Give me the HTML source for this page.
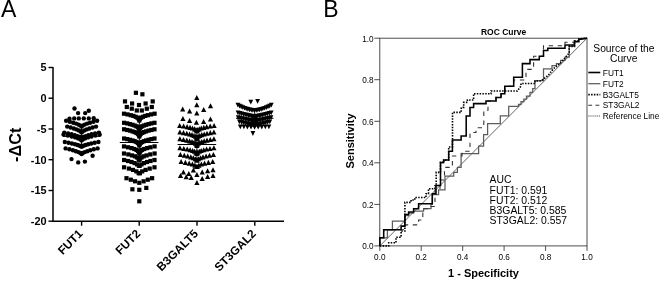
<!DOCTYPE html>
<html><head><meta charset="utf-8"><title>Figure</title>
<style>
html,body{margin:0;padding:0;background:#fff;}
body{width:660px;height:281px;overflow:hidden;font-family:"Liberation Sans",sans-serif;}
svg{display:block;will-change:transform;filter:grayscale(1);}
text{font-family:"Liberation Sans",sans-serif;fill:#000;}
.b{font-weight:bold;}
</style></head><body>
<svg width="660" height="281" viewBox="0 0 660 281">
<rect width="660" height="281" fill="#fff"/>
<path d="M53.0 66.9 V221.2 H284" fill="none" stroke="#000" stroke-width="1.5"/>
<line x1="48.5" y1="67.5" x2="53.0" y2="67.5" stroke="#000" stroke-width="1.4"/>
<text x="46.5" y="71.3" text-anchor="end" class="b" font-size="10.9">5</text>
<line x1="48.5" y1="98.2" x2="53.0" y2="98.2" stroke="#000" stroke-width="1.4"/>
<text x="46.5" y="102.0" text-anchor="end" class="b" font-size="10.9">0</text>
<line x1="48.5" y1="129.0" x2="53.0" y2="129.0" stroke="#000" stroke-width="1.4"/>
<text x="46.5" y="132.8" text-anchor="end" class="b" font-size="10.9">-5</text>
<line x1="48.5" y1="159.7" x2="53.0" y2="159.7" stroke="#000" stroke-width="1.4"/>
<text x="46.5" y="163.5" text-anchor="end" class="b" font-size="10.9">-10</text>
<line x1="48.5" y1="190.5" x2="53.0" y2="190.5" stroke="#000" stroke-width="1.4"/>
<text x="46.5" y="194.3" text-anchor="end" class="b" font-size="10.9">-15</text>
<line x1="48.5" y1="221.2" x2="53.0" y2="221.2" stroke="#000" stroke-width="1.4"/>
<text x="46.5" y="225.0" text-anchor="end" class="b" font-size="10.9">-20</text>
<line x1="81.6" y1="221.2" x2="81.6" y2="225.7" stroke="#000" stroke-width="1.4"/>
<line x1="139.2" y1="221.2" x2="139.2" y2="225.7" stroke="#000" stroke-width="1.4"/>
<line x1="197.0" y1="221.2" x2="197.0" y2="225.7" stroke="#000" stroke-width="1.4"/>
<line x1="254.8" y1="221.2" x2="254.8" y2="225.7" stroke="#000" stroke-width="1.4"/>
<text transform="translate(83.5,234.4) rotate(-45)" text-anchor="end" class="b" font-size="11.8">FUT1</text>
<text transform="translate(141.1,234.4) rotate(-45)" text-anchor="end" class="b" font-size="11.8">FUT2</text>
<text transform="translate(198.9,234.4) rotate(-45)" text-anchor="end" class="b" font-size="11.8">B3GALT5</text>
<text transform="translate(256.7,234.4) rotate(-45)" text-anchor="end" class="b" font-size="11.8">ST3GAL2</text>
<text transform="translate(20.9,144.8) rotate(-90)" text-anchor="middle" class="b" font-size="16.3">-ΔCt</text>
<text x="0.9" y="17.4" font-size="23">A</text>
<text x="323.2" y="17.4" font-size="23">B</text>
<g fill="#000"><circle cx="74.5" cy="108.5" r="2.2"/><circle cx="78.1" cy="113.1" r="2.2"/><circle cx="85.2" cy="113.1" r="2.2"/><circle cx="88.8" cy="110.7" r="2.2"/><circle cx="69.5" cy="118.7" r="2.2"/><circle cx="74.2" cy="118.4" r="2.2"/><circle cx="78.8" cy="118.4" r="2.2"/><circle cx="83.8" cy="118.4" r="2.2"/><circle cx="88.8" cy="118.4" r="2.2"/><circle cx="93.7" cy="118.2" r="2.2"/><circle cx="71.5" cy="159.1" r="2.2"/><circle cx="78.2" cy="162.4" r="2.2"/><circle cx="84.9" cy="161.6" r="2.2"/><circle cx="92.6" cy="155.8" r="2.2"/><circle cx="66.1" cy="120.8" r="2.2"/><circle cx="69.8" cy="121.7" r="2.2"/><circle cx="73.2" cy="122.7" r="2.2"/><circle cx="76.1" cy="123.6" r="2.2"/><circle cx="78.6" cy="124.6" r="2.2"/><circle cx="80.5" cy="125.6" r="2.2"/><circle cx="81.6" cy="126.6" r="2.2"/><circle cx="82.7" cy="125.6" r="2.2"/><circle cx="84.6" cy="124.6" r="2.2"/><circle cx="87.1" cy="123.6" r="2.2"/><circle cx="90.0" cy="122.7" r="2.2"/><circle cx="93.4" cy="121.7" r="2.2"/><circle cx="97.1" cy="120.8" r="2.2"/><circle cx="67.2" cy="126.6" r="2.2"/><circle cx="70.6" cy="127.5" r="2.2"/><circle cx="73.8" cy="128.5" r="2.2"/><circle cx="76.5" cy="129.4" r="2.2"/><circle cx="78.8" cy="130.4" r="2.2"/><circle cx="80.6" cy="131.4" r="2.2"/><circle cx="81.6" cy="132.4" r="2.2"/><circle cx="82.6" cy="131.4" r="2.2"/><circle cx="84.4" cy="130.4" r="2.2"/><circle cx="86.7" cy="129.4" r="2.2"/><circle cx="89.4" cy="128.5" r="2.2"/><circle cx="92.6" cy="127.5" r="2.2"/><circle cx="96.0" cy="126.6" r="2.2"/><circle cx="64.3" cy="132.6" r="2.2"/><circle cx="68.1" cy="133.5" r="2.2"/><circle cx="71.6" cy="134.3" r="2.2"/><circle cx="74.8" cy="135.2" r="2.2"/><circle cx="77.5" cy="136.1" r="2.2"/><circle cx="79.7" cy="137.0" r="2.2"/><circle cx="81.2" cy="137.9" r="2.2"/><circle cx="82.0" cy="137.9" r="2.2"/><circle cx="83.5" cy="137.0" r="2.2"/><circle cx="85.7" cy="136.1" r="2.2"/><circle cx="88.4" cy="135.2" r="2.2"/><circle cx="91.6" cy="134.3" r="2.2"/><circle cx="95.1" cy="133.5" r="2.2"/><circle cx="98.9" cy="132.6" r="2.2"/><circle cx="63.5" cy="134.6" r="2.2"/><circle cx="67.8" cy="135.5" r="2.2"/><circle cx="71.7" cy="136.5" r="2.2"/><circle cx="75.2" cy="137.4" r="2.2"/><circle cx="78.1" cy="138.4" r="2.2"/><circle cx="80.4" cy="139.4" r="2.2"/><circle cx="81.6" cy="140.4" r="2.2"/><circle cx="82.8" cy="139.4" r="2.2"/><circle cx="85.1" cy="138.4" r="2.2"/><circle cx="88.0" cy="137.4" r="2.2"/><circle cx="91.5" cy="136.5" r="2.2"/><circle cx="95.4" cy="135.5" r="2.2"/><circle cx="99.7" cy="134.6" r="2.2"/><circle cx="64.8" cy="142.0" r="2.2"/><circle cx="68.5" cy="142.7" r="2.2"/><circle cx="71.9" cy="143.5" r="2.2"/><circle cx="75.0" cy="144.2" r="2.2"/><circle cx="77.6" cy="145.0" r="2.2"/><circle cx="79.7" cy="145.7" r="2.2"/><circle cx="81.2" cy="146.5" r="2.2"/><circle cx="82.0" cy="146.5" r="2.2"/><circle cx="83.5" cy="145.7" r="2.2"/><circle cx="85.6" cy="145.0" r="2.2"/><circle cx="88.2" cy="144.2" r="2.2"/><circle cx="91.3" cy="143.5" r="2.2"/><circle cx="94.7" cy="142.7" r="2.2"/><circle cx="98.4" cy="142.0" r="2.2"/><circle cx="65.6" cy="148.4" r="2.2"/><circle cx="69.4" cy="149.3" r="2.2"/><circle cx="72.9" cy="150.2" r="2.2"/><circle cx="75.9" cy="151.2" r="2.2"/><circle cx="78.5" cy="152.1" r="2.2"/><circle cx="80.5" cy="153.0" r="2.2"/><circle cx="81.6" cy="154.0" r="2.2"/><circle cx="82.7" cy="153.0" r="2.2"/><circle cx="84.7" cy="152.1" r="2.2"/><circle cx="87.3" cy="151.2" r="2.2"/><circle cx="90.3" cy="150.2" r="2.2"/><circle cx="93.8" cy="149.3" r="2.2"/><circle cx="97.6" cy="148.4" r="2.2"/></g>
<g fill="#000"><rect x="133.8" y="90.7" width="4.2" height="4.2"/><rect x="140.3" y="92.2" width="4.2" height="4.2"/><rect x="122.9" y="99.3" width="4.2" height="4.2"/><rect x="130.0" y="101.4" width="4.2" height="4.2"/><rect x="136.9" y="102.9" width="4.2" height="4.2"/><rect x="143.5" y="101.4" width="4.2" height="4.2"/><rect x="150.6" y="99.3" width="4.2" height="4.2"/><rect x="124.7" y="104.9" width="4.2" height="4.2"/><rect x="129.7" y="106.6" width="4.2" height="4.2"/><rect x="134.7" y="108.4" width="4.2" height="4.2"/><rect x="139.7" y="108.4" width="4.2" height="4.2"/><rect x="144.7" y="106.6" width="4.2" height="4.2"/><rect x="149.7" y="104.9" width="4.2" height="4.2"/><rect x="130.3" y="187.2" width="4.2" height="4.2"/><rect x="137.2" y="187.7" width="4.2" height="4.2"/><rect x="144.2" y="185.8" width="4.2" height="4.2"/><rect x="137.2" y="199.2" width="4.2" height="4.2"/><rect x="121.9" y="111.6" width="4.2" height="4.2"/><rect x="125.4" y="112.3" width="4.2" height="4.2"/><rect x="128.6" y="113.1" width="4.2" height="4.2"/><rect x="131.3" y="113.8" width="4.2" height="4.2"/><rect x="133.6" y="114.7" width="4.2" height="4.2"/><rect x="135.4" y="115.6" width="4.2" height="4.2"/><rect x="136.6" y="116.7" width="4.2" height="4.2"/><rect x="137.2" y="118.4" width="4.2" height="4.2"/><rect x="137.8" y="116.7" width="4.2" height="4.2"/><rect x="139.0" y="115.6" width="4.2" height="4.2"/><rect x="140.8" y="114.7" width="4.2" height="4.2"/><rect x="143.1" y="113.8" width="4.2" height="4.2"/><rect x="145.8" y="113.1" width="4.2" height="4.2"/><rect x="149.0" y="112.3" width="4.2" height="4.2"/><rect x="152.5" y="111.6" width="4.2" height="4.2"/><rect x="122.0" y="120.7" width="4.2" height="4.2"/><rect x="125.1" y="121.3" width="4.2" height="4.2"/><rect x="127.9" y="122.0" width="4.2" height="4.2"/><rect x="130.4" y="122.7" width="4.2" height="4.2"/><rect x="132.5" y="123.4" width="4.2" height="4.2"/><rect x="134.3" y="124.2" width="4.2" height="4.2"/><rect x="135.8" y="125.1" width="4.2" height="4.2"/><rect x="136.8" y="126.1" width="4.2" height="4.2"/><rect x="137.2" y="127.7" width="4.2" height="4.2"/><rect x="137.6" y="126.1" width="4.2" height="4.2"/><rect x="138.6" y="125.1" width="4.2" height="4.2"/><rect x="140.1" y="124.2" width="4.2" height="4.2"/><rect x="141.9" y="123.4" width="4.2" height="4.2"/><rect x="144.0" y="122.7" width="4.2" height="4.2"/><rect x="146.5" y="122.0" width="4.2" height="4.2"/><rect x="149.3" y="121.3" width="4.2" height="4.2"/><rect x="152.4" y="120.7" width="4.2" height="4.2"/><rect x="122.0" y="127.2" width="4.2" height="4.2"/><rect x="125.1" y="127.9" width="4.2" height="4.2"/><rect x="127.9" y="128.5" width="4.2" height="4.2"/><rect x="130.4" y="129.3" width="4.2" height="4.2"/><rect x="132.5" y="130.0" width="4.2" height="4.2"/><rect x="134.3" y="130.8" width="4.2" height="4.2"/><rect x="135.8" y="131.7" width="4.2" height="4.2"/><rect x="136.8" y="132.8" width="4.2" height="4.2"/><rect x="137.2" y="134.4" width="4.2" height="4.2"/><rect x="137.6" y="132.8" width="4.2" height="4.2"/><rect x="138.6" y="131.7" width="4.2" height="4.2"/><rect x="140.1" y="130.8" width="4.2" height="4.2"/><rect x="141.9" y="130.0" width="4.2" height="4.2"/><rect x="144.0" y="129.3" width="4.2" height="4.2"/><rect x="146.5" y="128.5" width="4.2" height="4.2"/><rect x="149.3" y="127.9" width="4.2" height="4.2"/><rect x="152.4" y="127.2" width="4.2" height="4.2"/><rect x="122.0" y="136.4" width="4.2" height="4.2"/><rect x="125.1" y="137.0" width="4.2" height="4.2"/><rect x="127.9" y="137.7" width="4.2" height="4.2"/><rect x="130.4" y="138.4" width="4.2" height="4.2"/><rect x="132.5" y="139.1" width="4.2" height="4.2"/><rect x="134.3" y="139.9" width="4.2" height="4.2"/><rect x="135.8" y="140.8" width="4.2" height="4.2"/><rect x="136.8" y="141.8" width="4.2" height="4.2"/><rect x="137.2" y="143.4" width="4.2" height="4.2"/><rect x="137.6" y="141.8" width="4.2" height="4.2"/><rect x="138.6" y="140.8" width="4.2" height="4.2"/><rect x="140.1" y="139.9" width="4.2" height="4.2"/><rect x="141.9" y="139.1" width="4.2" height="4.2"/><rect x="144.0" y="138.4" width="4.2" height="4.2"/><rect x="146.5" y="137.7" width="4.2" height="4.2"/><rect x="149.3" y="137.0" width="4.2" height="4.2"/><rect x="152.4" y="136.4" width="4.2" height="4.2"/><rect x="121.9" y="144.3" width="4.2" height="4.2"/><rect x="126.0" y="145.2" width="4.2" height="4.2"/><rect x="129.4" y="146.0" width="4.2" height="4.2"/><rect x="132.2" y="146.9" width="4.2" height="4.2"/><rect x="134.4" y="147.9" width="4.2" height="4.2"/><rect x="136.0" y="148.9" width="4.2" height="4.2"/><rect x="136.9" y="149.9" width="4.2" height="4.2"/><rect x="137.2" y="151.3" width="4.2" height="4.2"/><rect x="137.5" y="149.9" width="4.2" height="4.2"/><rect x="138.4" y="148.9" width="4.2" height="4.2"/><rect x="140.0" y="147.9" width="4.2" height="4.2"/><rect x="142.2" y="146.9" width="4.2" height="4.2"/><rect x="145.0" y="146.0" width="4.2" height="4.2"/><rect x="148.4" y="145.2" width="4.2" height="4.2"/><rect x="152.5" y="144.3" width="4.2" height="4.2"/><rect x="121.9" y="151.4" width="4.2" height="4.2"/><rect x="126.2" y="152.3" width="4.2" height="4.2"/><rect x="129.9" y="153.3" width="4.2" height="4.2"/><rect x="132.8" y="154.2" width="4.2" height="4.2"/><rect x="134.9" y="155.3" width="4.2" height="4.2"/><rect x="136.4" y="156.4" width="4.2" height="4.2"/><rect x="137.1" y="157.6" width="4.2" height="4.2"/><rect x="137.3" y="157.6" width="4.2" height="4.2"/><rect x="138.0" y="156.4" width="4.2" height="4.2"/><rect x="139.5" y="155.3" width="4.2" height="4.2"/><rect x="141.6" y="154.2" width="4.2" height="4.2"/><rect x="144.5" y="153.3" width="4.2" height="4.2"/><rect x="148.2" y="152.3" width="4.2" height="4.2"/><rect x="152.5" y="151.4" width="4.2" height="4.2"/><rect x="122.0" y="157.9" width="4.2" height="4.2"/><rect x="126.0" y="158.9" width="4.2" height="4.2"/><rect x="129.5" y="159.9" width="4.2" height="4.2"/><rect x="132.5" y="161.0" width="4.2" height="4.2"/><rect x="135.0" y="162.3" width="4.2" height="4.2"/><rect x="136.8" y="163.7" width="4.2" height="4.2"/><rect x="137.6" y="163.7" width="4.2" height="4.2"/><rect x="139.4" y="162.3" width="4.2" height="4.2"/><rect x="141.9" y="161.0" width="4.2" height="4.2"/><rect x="144.9" y="159.9" width="4.2" height="4.2"/><rect x="148.4" y="158.9" width="4.2" height="4.2"/><rect x="152.4" y="157.9" width="4.2" height="4.2"/><rect x="122.0" y="165.2" width="4.2" height="4.2"/><rect x="126.8" y="166.5" width="4.2" height="4.2"/><rect x="130.9" y="167.8" width="4.2" height="4.2"/><rect x="134.3" y="169.3" width="4.2" height="4.2"/><rect x="136.6" y="171.1" width="4.2" height="4.2"/><rect x="137.8" y="171.1" width="4.2" height="4.2"/><rect x="140.1" y="169.3" width="4.2" height="4.2"/><rect x="143.5" y="167.8" width="4.2" height="4.2"/><rect x="147.6" y="166.5" width="4.2" height="4.2"/><rect x="152.4" y="165.2" width="4.2" height="4.2"/><rect x="124.4" y="176.1" width="4.2" height="4.2"/><rect x="128.7" y="177.6" width="4.2" height="4.2"/><rect x="132.9" y="179.2" width="4.2" height="4.2"/><rect x="137.2" y="180.7" width="4.2" height="4.2"/><rect x="141.5" y="179.2" width="4.2" height="4.2"/><rect x="145.7" y="177.6" width="4.2" height="4.2"/><rect x="150.0" y="176.1" width="4.2" height="4.2"/></g>
<line x1="119.8" y1="142.5" x2="158.4" y2="142.5" stroke="#000" stroke-width="1"/>
<g fill="#000"><path d="M194.2 99.9L199.4 99.9L196.8 94.9z"/><path d="M194.2 107.2L199.4 107.2L196.8 102.2z"/><path d="M207.9 108.2L213.1 108.2L210.5 103.2z"/><path d="M180.1 111.5L185.3 111.5L182.7 106.5z"/><path d="M187.0 113.6L192.2 113.6L189.6 108.6z"/><path d="M194.2 115.6L199.4 115.6L196.8 110.6z"/><path d="M201.1 112.1L206.3 112.1L203.7 107.1z"/><path d="M180.3 121.0L185.5 121.0L182.9 116.0z"/><path d="M187.0 123.1L192.2 123.1L189.6 118.1z"/><path d="M193.8 124.7L199.0 124.7L196.4 119.7z"/><path d="M201.0 123.9L206.2 123.9L203.6 118.9z"/><path d="M207.9 121.5L213.1 121.5L210.5 116.5z"/><path d="M194.3 185.0L199.5 185.0L196.9 180.0z"/><path d="M177.9 177.9L183.1 177.9L180.5 172.9z"/><path d="M180.8 174.6L186.0 174.6L183.4 169.6z"/><path d="M183.6 179.3L188.8 179.3L186.2 174.3z"/><path d="M186.2 176.0L191.4 176.0L188.8 171.0z"/><path d="M188.6 179.9L193.8 179.9L191.2 174.9z"/><path d="M190.8 172.5L196.0 172.5L193.4 167.5z"/><path d="M194.3 177.0L199.5 177.0L196.9 172.0z"/><path d="M199.6 174.6L204.8 174.6L202.2 169.6z"/><path d="M199.6 181.0L204.8 181.0L202.2 176.0z"/><path d="M205.0 173.2L210.2 173.2L207.6 168.2z"/><path d="M205.0 178.9L210.2 178.9L207.6 173.9z"/><path d="M210.4 172.2L215.6 172.2L213.0 167.2z"/><path d="M210.4 178.1L215.6 178.1L213.0 173.1z"/><path d="M177.1 127.9L182.3 127.9L179.7 122.9z"/><path d="M181.0 128.6L186.2 128.6L183.6 123.5z"/><path d="M184.5 129.2L189.7 129.2L187.1 124.1z"/><path d="M187.4 129.9L192.6 129.9L190.0 124.8z"/><path d="M189.9 130.6L195.1 130.6L192.5 125.5z"/><path d="M191.9 131.4L197.1 131.4L194.5 126.3z"/><path d="M193.4 132.2L198.6 132.2L196.0 127.1z"/><path d="M194.2 133.3L199.4 133.3L196.8 128.2z"/><path d="M194.4 133.3L199.6 133.3L197.0 128.2z"/><path d="M195.2 132.2L200.4 132.2L197.8 127.1z"/><path d="M196.7 131.4L201.9 131.4L199.3 126.3z"/><path d="M198.7 130.6L203.9 130.6L201.3 125.5z"/><path d="M201.2 129.9L206.4 129.9L203.8 124.8z"/><path d="M204.1 129.2L209.3 129.2L206.7 124.1z"/><path d="M207.6 128.6L212.8 128.6L210.2 123.5z"/><path d="M211.5 127.9L216.7 127.9L214.1 122.9z"/><path d="M177.3 134.5L182.5 134.5L179.9 129.5z"/><path d="M180.9 135.2L186.1 135.2L183.5 130.1z"/><path d="M184.2 135.8L189.4 135.8L186.8 130.7z"/><path d="M187.0 136.5L192.2 136.5L189.6 131.4z"/><path d="M189.4 137.2L194.6 137.2L192.0 132.1z"/><path d="M191.4 138.0L196.6 138.0L194.0 132.9z"/><path d="M192.9 138.8L198.1 138.8L195.5 133.7z"/><path d="M193.9 139.7L199.1 139.7L196.5 134.6z"/><path d="M194.3 141.0L199.5 141.0L196.9 136.0z"/><path d="M194.7 139.7L199.9 139.7L197.3 134.6z"/><path d="M195.7 138.8L200.9 138.8L198.3 133.7z"/><path d="M197.2 138.0L202.4 138.0L199.8 132.9z"/><path d="M199.2 137.2L204.4 137.2L201.8 132.1z"/><path d="M201.6 136.5L206.8 136.5L204.2 131.4z"/><path d="M204.4 135.8L209.6 135.8L207.0 130.7z"/><path d="M207.7 135.2L212.9 135.2L210.3 130.1z"/><path d="M211.3 134.5L216.5 134.5L213.9 129.5z"/><path d="M177.3 141.3L182.5 141.3L179.9 136.3z"/><path d="M180.9 142.0L186.1 142.0L183.5 136.9z"/><path d="M184.2 142.7L189.4 142.7L186.8 137.6z"/><path d="M187.0 143.4L192.2 143.4L189.6 138.3z"/><path d="M189.4 144.1L194.6 144.1L192.0 139.0z"/><path d="M191.4 144.9L196.6 144.9L194.0 139.8z"/><path d="M192.9 145.7L198.1 145.7L195.5 140.6z"/><path d="M193.9 146.7L199.1 146.7L196.5 141.6z"/><path d="M194.3 148.0L199.5 148.0L196.9 143.0z"/><path d="M194.7 146.7L199.9 146.7L197.3 141.6z"/><path d="M195.7 145.7L200.9 145.7L198.3 140.6z"/><path d="M197.2 144.9L202.4 144.9L199.8 139.8z"/><path d="M199.2 144.1L204.4 144.1L201.8 139.0z"/><path d="M201.6 143.4L206.8 143.4L204.2 138.3z"/><path d="M204.4 142.7L209.6 142.7L207.0 137.6z"/><path d="M207.7 142.0L212.9 142.0L210.3 136.9z"/><path d="M211.3 141.3L216.5 141.3L213.9 136.3z"/><path d="M177.3 150.3L182.5 150.3L179.9 145.3z"/><path d="M181.2 151.0L186.4 151.0L183.8 145.9z"/><path d="M184.6 151.6L189.8 151.6L187.2 146.5z"/><path d="M187.5 152.3L192.7 152.3L190.1 147.2z"/><path d="M190.0 153.1L195.2 153.1L192.6 148.0z"/><path d="M191.9 153.8L197.1 153.8L194.5 148.7z"/><path d="M193.4 154.7L198.6 154.7L196.0 149.6z"/><path d="M194.2 155.7L199.4 155.7L196.8 150.7z"/><path d="M194.4 155.7L199.6 155.7L197.0 150.7z"/><path d="M195.2 154.7L200.4 154.7L197.8 149.6z"/><path d="M196.7 153.8L201.9 153.8L199.3 148.7z"/><path d="M198.6 153.1L203.8 153.1L201.2 148.0z"/><path d="M201.1 152.3L206.3 152.3L203.7 147.2z"/><path d="M204.0 151.6L209.2 151.6L206.6 146.5z"/><path d="M207.4 151.0L212.6 151.0L210.0 145.9z"/><path d="M211.3 150.3L216.5 150.3L213.9 145.3z"/><path d="M177.8 157.0L183.0 157.0L180.4 152.0z"/><path d="M181.7 157.8L186.9 157.8L184.3 152.7z"/><path d="M185.1 158.6L190.3 158.6L187.7 153.5z"/><path d="M188.2 159.4L193.4 159.4L190.8 154.3z"/><path d="M190.7 160.3L195.9 160.3L193.3 155.2z"/><path d="M192.7 161.3L197.9 161.3L195.3 156.2z"/><path d="M194.0 162.5L199.2 162.5L196.6 157.4z"/><path d="M194.6 162.5L199.8 162.5L197.2 157.4z"/><path d="M195.9 161.3L201.1 161.3L198.5 156.2z"/><path d="M197.9 160.3L203.1 160.3L200.5 155.2z"/><path d="M200.4 159.4L205.6 159.4L203.0 154.3z"/><path d="M203.5 158.6L208.7 158.6L206.1 153.5z"/><path d="M206.9 157.8L212.1 157.8L209.5 152.7z"/><path d="M210.8 157.0L216.0 157.0L213.4 152.0z"/><path d="M178.5 164.0L183.7 164.0L181.1 159.0z"/><path d="M182.8 164.9L188.0 164.9L185.4 159.8z"/><path d="M186.6 165.7L191.8 165.7L189.2 160.6z"/><path d="M189.8 166.6L195.0 166.6L192.4 161.6z"/><path d="M192.3 167.7L197.5 167.7L194.9 162.6z"/><path d="M194.0 169.0L199.2 169.0L196.6 163.9z"/><path d="M194.6 169.0L199.8 169.0L197.2 163.9z"/><path d="M196.3 167.7L201.5 167.7L198.9 162.6z"/><path d="M198.8 166.6L204.0 166.6L201.4 161.6z"/><path d="M202.0 165.7L207.2 165.7L204.6 160.6z"/><path d="M205.8 164.9L211.0 164.9L208.4 159.8z"/><path d="M210.1 164.0L215.3 164.0L212.7 159.0z"/></g>
<line x1="177.6" y1="144.5" x2="216.2" y2="144.5" stroke="#000" stroke-width="1"/>
<g fill="#000"><path d="M248.4 99.8L253.2 99.8L250.8 104.6z"/><path d="M255.2 99.0L260.0 99.0L257.6 103.8z"/><path d="M250.5 131.1L255.3 131.1L252.9 135.9z"/><path d="M235.5 102.8L240.3 102.8L237.9 107.6z"/><path d="M237.2 103.7L242.0 103.7L239.6 108.4z"/><path d="M238.8 104.5L243.6 104.5L241.2 109.2z"/><path d="M240.5 105.2L245.3 105.2L242.9 109.9z"/><path d="M242.2 105.9L247.0 105.9L244.6 110.6z"/><path d="M243.8 106.5L248.7 106.5L246.2 111.2z"/><path d="M245.5 107.0L250.3 107.0L247.9 111.7z"/><path d="M247.2 107.5L252.0 107.5L249.6 112.2z"/><path d="M248.9 107.8L253.7 107.8L251.3 112.5z"/><path d="M250.5 108.1L255.3 108.1L252.9 112.8z"/><path d="M252.2 108.2L257.0 108.2L254.6 113.0z"/><path d="M253.9 108.1L258.7 108.1L256.3 112.8z"/><path d="M255.5 107.8L260.3 107.8L257.9 112.5z"/><path d="M257.2 107.5L262.0 107.5L259.6 112.2z"/><path d="M258.9 107.0L263.7 107.0L261.3 111.7z"/><path d="M260.6 106.5L265.3 106.5L262.9 111.2z"/><path d="M262.2 105.9L267.0 105.9L264.6 110.6z"/><path d="M263.9 105.2L268.7 105.2L266.3 109.9z"/><path d="M265.6 104.5L270.4 104.5L268.0 109.2z"/><path d="M267.2 103.7L272.0 103.7L269.6 108.4z"/><path d="M268.9 102.8L273.7 102.8L271.3 107.6z"/><path d="M235.6 110.4L240.4 110.4L238.0 115.2z"/><path d="M237.5 111.0L242.3 111.0L239.9 115.7z"/><path d="M239.3 111.5L244.1 111.5L241.7 116.2z"/><path d="M241.1 112.0L245.9 112.0L243.5 116.7z"/><path d="M242.8 112.4L247.6 112.4L245.2 117.1z"/><path d="M244.4 112.8L249.2 112.8L246.8 117.5z"/><path d="M246.0 113.2L250.8 113.2L248.4 117.9z"/><path d="M247.5 113.5L252.3 113.5L249.9 118.2z"/><path d="M248.9 113.8L253.7 113.8L251.3 118.5z"/><path d="M250.2 114.0L255.0 114.0L252.6 118.7z"/><path d="M251.4 114.2L256.2 114.2L253.8 118.9z"/><path d="M252.2 114.2L257.0 114.2L254.6 119.0z"/><path d="M253.0 114.2L257.8 114.2L255.4 118.9z"/><path d="M254.2 114.0L259.0 114.0L256.6 118.7z"/><path d="M255.5 113.8L260.3 113.8L257.9 118.5z"/><path d="M256.9 113.5L261.7 113.5L259.3 118.2z"/><path d="M258.4 113.2L263.2 113.2L260.8 117.9z"/><path d="M260.0 112.8L264.8 112.8L262.4 117.5z"/><path d="M261.6 112.4L266.4 112.4L264.0 117.1z"/><path d="M263.3 112.0L268.1 112.0L265.7 116.7z"/><path d="M265.1 111.5L269.9 111.5L267.5 116.2z"/><path d="M266.9 111.0L271.7 111.0L269.3 115.7z"/><path d="M268.8 110.4L273.6 110.4L271.2 115.2z"/><path d="M235.8 115.2L240.6 115.2L238.2 120.0z"/><path d="M237.6 115.7L242.4 115.7L240.0 120.4z"/><path d="M239.4 116.2L244.2 116.2L241.8 120.9z"/><path d="M241.2 116.6L246.0 116.6L243.6 121.3z"/><path d="M242.9 117.0L247.7 117.0L245.3 121.7z"/><path d="M244.5 117.4L249.3 117.4L246.9 122.1z"/><path d="M246.1 117.7L250.9 117.7L248.5 122.4z"/><path d="M247.6 118.0L252.4 118.0L250.0 122.7z"/><path d="M249.0 118.2L253.8 118.2L251.4 122.9z"/><path d="M250.3 118.4L255.1 118.4L252.7 123.1z"/><path d="M251.4 118.6L256.2 118.6L253.8 123.3z"/><path d="M252.2 118.6L257.0 118.6L254.6 123.4z"/><path d="M253.0 118.6L257.8 118.6L255.4 123.3z"/><path d="M254.1 118.4L258.9 118.4L256.5 123.1z"/><path d="M255.4 118.2L260.2 118.2L257.8 122.9z"/><path d="M256.8 118.0L261.6 118.0L259.2 122.7z"/><path d="M258.3 117.7L263.1 117.7L260.7 122.4z"/><path d="M259.9 117.4L264.7 117.4L262.3 122.1z"/><path d="M261.5 117.0L266.3 117.0L263.9 121.7z"/><path d="M263.2 116.6L268.0 116.6L265.6 121.3z"/><path d="M265.0 116.2L269.8 116.2L267.4 120.9z"/><path d="M266.8 115.7L271.6 115.7L269.2 120.4z"/><path d="M268.6 115.2L273.4 115.2L271.0 120.0z"/><path d="M237.0 119.4L241.8 119.4L239.4 124.2z"/><path d="M239.1 120.0L243.9 120.0L241.5 124.7z"/><path d="M241.1 120.5L245.9 120.5L243.5 125.2z"/><path d="M243.0 121.0L247.8 121.0L245.4 125.7z"/><path d="M244.9 121.4L249.7 121.4L247.3 126.1z"/><path d="M246.7 121.8L251.5 121.8L249.1 126.5z"/><path d="M248.4 122.1L253.2 122.1L250.8 126.8z"/><path d="M249.9 122.4L254.7 122.4L252.3 127.1z"/><path d="M251.2 122.6L256.0 122.6L253.6 127.3z"/><path d="M252.2 122.6L257.0 122.6L254.6 127.4z"/><path d="M253.2 122.6L258.0 122.6L255.6 127.3z"/><path d="M254.5 122.4L259.3 122.4L256.9 127.1z"/><path d="M256.0 122.1L260.8 122.1L258.4 126.8z"/><path d="M257.7 121.8L262.5 121.8L260.1 126.5z"/><path d="M259.5 121.4L264.3 121.4L261.9 126.1z"/><path d="M261.4 121.0L266.2 121.0L263.8 125.7z"/><path d="M263.3 120.5L268.1 120.5L265.7 125.2z"/><path d="M265.3 120.0L270.1 120.0L267.7 124.7z"/><path d="M267.4 119.4L272.2 119.4L269.8 124.2z"/><path d="M237.9 124.4L242.7 124.4L240.3 129.2z"/><path d="M241.5 124.6L246.3 124.6L243.9 129.3z"/><path d="M245.0 124.7L249.8 124.7L247.4 129.5z"/><path d="M248.6 124.9L253.4 124.9L251.0 129.6z"/><path d="M252.2 125.0L257.0 125.0L254.6 129.8z"/><path d="M255.8 124.9L260.6 124.9L258.2 129.6z"/><path d="M259.4 124.7L264.1 124.7L261.8 129.5z"/><path d="M262.9 124.6L267.7 124.6L265.3 129.3z"/><path d="M266.5 124.4L271.3 124.4L268.9 129.2z"/></g>
<line x1="81.6" y1="125.5" x2="81.6" y2="147" stroke="#000" stroke-width="1"/>
<line x1="139.3" y1="122" x2="139.3" y2="162.4" stroke="#000" stroke-width="1"/>
<line x1="196.9" y1="128" x2="196.9" y2="161" stroke="#000" stroke-width="1"/>
<line x1="254.7" y1="112.3" x2="254.7" y2="124" stroke="#000" stroke-width="1"/>
<line x1="63" y1="136.4" x2="100.5" y2="136.4" stroke="#000" stroke-width="1"/>
<line x1="236" y1="118.3" x2="273.5" y2="118.3" stroke="#000" stroke-width="1"/>
<rect x="379.8" y="38.2" width="207.2" height="207.7" fill="none" stroke="#3a3a3a" stroke-width="0.9"/>
<line x1="379.8" y1="245.9" x2="379.8" y2="250.9" stroke="#3a3a3a" stroke-width="0.9"/>
<line x1="374.3" y1="245.9" x2="379.8" y2="245.9" stroke="#3a3a3a" stroke-width="0.9"/>
<text x="379.8" y="260.4" text-anchor="middle" font-size="8.2" fill="#222">0.0</text>
<text x="373.6" y="249.4" text-anchor="end" font-size="8.2" fill="#222">0.0</text>
<line x1="421.2" y1="245.9" x2="421.2" y2="250.9" stroke="#3a3a3a" stroke-width="0.9"/>
<line x1="374.3" y1="204.4" x2="379.8" y2="204.4" stroke="#3a3a3a" stroke-width="0.9"/>
<text x="421.2" y="260.4" text-anchor="middle" font-size="8.2" fill="#222">0.2</text>
<text x="373.6" y="207.9" text-anchor="end" font-size="8.2" fill="#222">0.2</text>
<line x1="462.7" y1="245.9" x2="462.7" y2="250.9" stroke="#3a3a3a" stroke-width="0.9"/>
<line x1="374.3" y1="162.8" x2="379.8" y2="162.8" stroke="#3a3a3a" stroke-width="0.9"/>
<text x="462.7" y="260.4" text-anchor="middle" font-size="8.2" fill="#222">0.4</text>
<text x="373.6" y="166.3" text-anchor="end" font-size="8.2" fill="#222">0.4</text>
<line x1="504.1" y1="245.9" x2="504.1" y2="250.9" stroke="#3a3a3a" stroke-width="0.9"/>
<line x1="374.3" y1="121.3" x2="379.8" y2="121.3" stroke="#3a3a3a" stroke-width="0.9"/>
<text x="504.1" y="260.4" text-anchor="middle" font-size="8.2" fill="#222">0.6</text>
<text x="373.6" y="124.8" text-anchor="end" font-size="8.2" fill="#222">0.6</text>
<line x1="545.6" y1="245.9" x2="545.6" y2="250.9" stroke="#3a3a3a" stroke-width="0.9"/>
<line x1="374.3" y1="79.7" x2="379.8" y2="79.7" stroke="#3a3a3a" stroke-width="0.9"/>
<text x="545.6" y="260.4" text-anchor="middle" font-size="8.2" fill="#222">0.8</text>
<text x="373.6" y="83.2" text-anchor="end" font-size="8.2" fill="#222">0.8</text>
<line x1="587.0" y1="245.9" x2="587.0" y2="250.9" stroke="#3a3a3a" stroke-width="0.9"/>
<line x1="374.3" y1="38.2" x2="379.8" y2="38.2" stroke="#3a3a3a" stroke-width="0.9"/>
<text x="587.0" y="260.4" text-anchor="middle" font-size="8.2" fill="#222">1.0</text>
<text x="373.6" y="41.7" text-anchor="end" font-size="8.2" fill="#222">1.0</text>
<text x="503.6" y="34.9" text-anchor="middle" class="b" font-size="8.5" fill="#111">ROC Curve</text>
<text transform="translate(354.3,141) rotate(-90)" text-anchor="middle" class="b" font-size="11">Sensitivity</text>
<text x="483.5" y="276.5" text-anchor="middle" class="b" font-size="11">1 - Specificity</text>
<line x1="379.8" y1="245.9" x2="587.0" y2="38.2" stroke="#333" stroke-width="0.75"/>
<path d="M379.8 245.9 L379.8 237.8 L387.4 237.8 L387.4 229.8 L392.4 229.8 L392.4 221.0 L404.9 221.0 L404.9 215.5 L408.6 215.5 L408.6 213.0 L413.6 213.0 L413.6 211.2 L423.6 211.2 L423.6 208.7 L431.0 208.7 L431.0 204.2 L432.3 204.2 L432.3 194.6 L438.6 194.6 L438.6 189.8 L445.0 189.8 L445.0 176.0 L453.7 176.0 L453.7 172.4 L457.4 172.4 L457.4 167.4 L461.1 167.4 L461.1 153.7 L478.6 153.7 L478.6 146.2 L483.6 146.2 L483.6 134.6 L487.6 134.6 L487.6 123.6 L500.3 123.6 L500.3 115.8 L508.7 115.8 L508.7 106.4 L518.5 106.4 L518.5 104.3 L521.0 104.3 L521.0 101.5 L523.8 101.5 L523.8 99.0 L526.5 99.0 L526.5 96.0 L530.0 96.0 L530.0 92.3 L532.7 92.3 L532.7 88.5 L535.0 88.5 L535.0 80.5 L543.5 80.5 L543.5 68.8 L552.0 68.8 L552.0 65.6 L556.4 65.6 L556.4 63.5 L560.6 63.5 L560.6 60.3 L565.0 60.3 L565.0 57.0 L569.2 57.0 L569.2 46.4 L574.5 46.4 L574.5 41.0 L578.8 41.0 L578.8 38.9 L587.0 38.2" fill="none" stroke="#5c5c5c" stroke-width="1.25"/>
<path d="M379.8 245.9 L379.8 237.8 L383.7 237.8 L383.7 229.8 L404.9 229.8 L404.9 224.9 L418.6 224.9 L418.6 220.0 L422.8 220.0 L422.8 211.2 L423.6 211.2 L423.6 208.7 L431.0 208.7 L431.0 206.5 L435.0 206.5 L435.0 190.0 L440.0 190.0 L440.0 180.0 L444.5 180.0 L444.5 167.4 L452.4 167.4 L452.4 156.0 L462.0 156.0 L462.0 151.3 L470.0 151.3 L470.0 132.5 L476.0 132.5 L476.0 127.8 L483.8 127.8 L483.8 110.2 L488.0 110.2 L488.0 101.0 L496.0 101.0 L496.0 97.4 L501.0 97.4 L501.0 93.7 L504.8 93.7 L504.8 86.2 L513.7 86.2 L513.7 80.0 L526.0 80.0 L526.0 69.4 L533.6 69.4 L533.6 56.2 L543.5 56.2 L543.5 45.8 L565.0 45.8 L565.0 42.3 L574.5 42.3 L574.5 40.0 L578.8 40.0 L578.8 38.9 L587.0 38.2" fill="none" stroke="#333" stroke-width="1.1" stroke-dasharray="4.4 4.6"/>
<path d="M379.8 245.9 L388.7 245.9 L388.7 242.8 L396.0 242.8 L396.0 237.2 L401.1 237.2 L401.1 231.0 L404.9 231.0 L404.9 202.4 L411.1 202.4 L411.1 200.0 L414.8 200.0 L414.8 197.5 L426.0 197.5 L426.0 193.7 L428.5 193.7 L428.5 188.7 L434.8 188.7 L434.8 186.0 L436.2 186.0 L436.2 172.4 L440.5 172.4 L440.5 162.4 L443.7 162.4 L443.7 160.0 L448.7 160.0 L448.7 147.0 L452.5 147.0 L452.5 112.4 L461.2 112.4 L461.2 107.4 L463.7 107.4 L463.7 102.4 L467.4 102.4 L467.4 100.0 L473.6 100.0 L473.6 93.7 L491.0 93.7 L491.0 91.0 L517.4 91.0 L521.0 86.0 L521.0 83.5 L535.0 83.5 L535.0 81.0 L541.0 81.0 L548.5 75.0 L553.5 68.6 L560.0 63.6 L565.0 58.0 L569.2 53.0 L569.2 46.4 L574.5 46.4 L574.5 41.0 L578.8 41.0 L578.8 38.9 L587.0 38.2" fill="none" stroke="#000" stroke-width="1.6" stroke-dasharray="1.5 1.3"/>
<path d="M379.8 245.9 L379.8 237.8 L383.7 237.8 L383.7 229.8 L401.1 229.8 L401.1 226.1 L404.9 226.1 L404.9 214.4 L408.6 214.4 L408.6 211.9 L413.6 211.9 L413.6 208.7 L418.6 208.7 L418.6 203.7 L432.3 203.7 L432.3 193.7 L436.0 193.7 L436.0 185.5 L440.5 185.5 L440.5 162.4 L443.7 162.4 L443.7 160.0 L448.7 160.0 L448.7 151.2 L452.4 151.2 L452.4 140.0 L461.1 140.0 L461.1 136.0 L466.2 136.0 L466.2 116.0 L470.0 116.0 L470.0 107.4 L473.6 107.4 L473.6 103.6 L486.0 103.6 L486.0 101.0 L496.0 101.0 L496.0 97.4 L501.0 97.4 L501.0 93.7 L504.8 93.7 L504.8 86.2 L513.7 86.2 L513.7 77.3 L522.4 77.3 L522.4 63.6 L530.0 63.6 L530.0 59.6 L539.3 59.6 L539.3 56.2 L543.5 56.2 L543.5 50.4 L547.8 50.4 L547.8 48.3 L565.0 48.3 L565.0 45.0 L574.5 45.0 L574.5 41.8 L578.8 41.8 L578.8 39.6 L587.0 38.2" fill="none" stroke="#000" stroke-width="1.55"/>
<text x="623.9" y="51.7" text-anchor="middle" font-size="10.3" fill="#111">Source of the</text>
<text x="623.7" y="62.2" text-anchor="middle" font-size="10.3" fill="#111">Curve</text>
<line x1="588.3" y1="72.5" x2="600.3" y2="72.5" stroke="#000" stroke-width="1.6"/>
<line x1="588.3" y1="83.7" x2="600.3" y2="83.7" stroke="#5c5c5c" stroke-width="1.25"/>
<line x1="588.3" y1="94.6" x2="600.3" y2="94.6" stroke="#000" stroke-width="1.6" stroke-dasharray="1.5 1.3"/>
<line x1="588.3" y1="105.3" x2="600.3" y2="105.3" stroke="#333" stroke-width="1.1" stroke-dasharray="3.8 3.4"/>
<line x1="588.3" y1="116.0" x2="600.3" y2="116.0" stroke="#222" stroke-width="0.8" stroke-dasharray="1.2 0.9"/>
<text x="602.8" y="75.5" font-size="8.35" fill="#111">FUT1</text>
<text x="602.8" y="86.7" font-size="8.35" fill="#111">FUT2</text>
<text x="602.8" y="97.6" font-size="8.35" fill="#111">B3GALT5</text>
<text x="602.8" y="108.3" font-size="8.35" fill="#111">ST3GAL2</text>
<text x="602.8" y="119.0" font-size="8.35" fill="#111">Reference Line</text>
<text x="489.6" y="183.3" font-size="10.4" fill="#111">AUC</text>
<text x="489.6" y="193.5" font-size="10.4" fill="#111">FUT1: 0.591</text>
<text x="489.6" y="203.8" font-size="10.4" fill="#111">FUT2: 0.512</text>
<text x="489.6" y="214.0" font-size="10.4" fill="#111">B3GALT5: 0.585</text>
<text x="489.6" y="224.2" font-size="10.4" fill="#111">ST3GAL2: 0.557</text>
</svg>
</body></html>
